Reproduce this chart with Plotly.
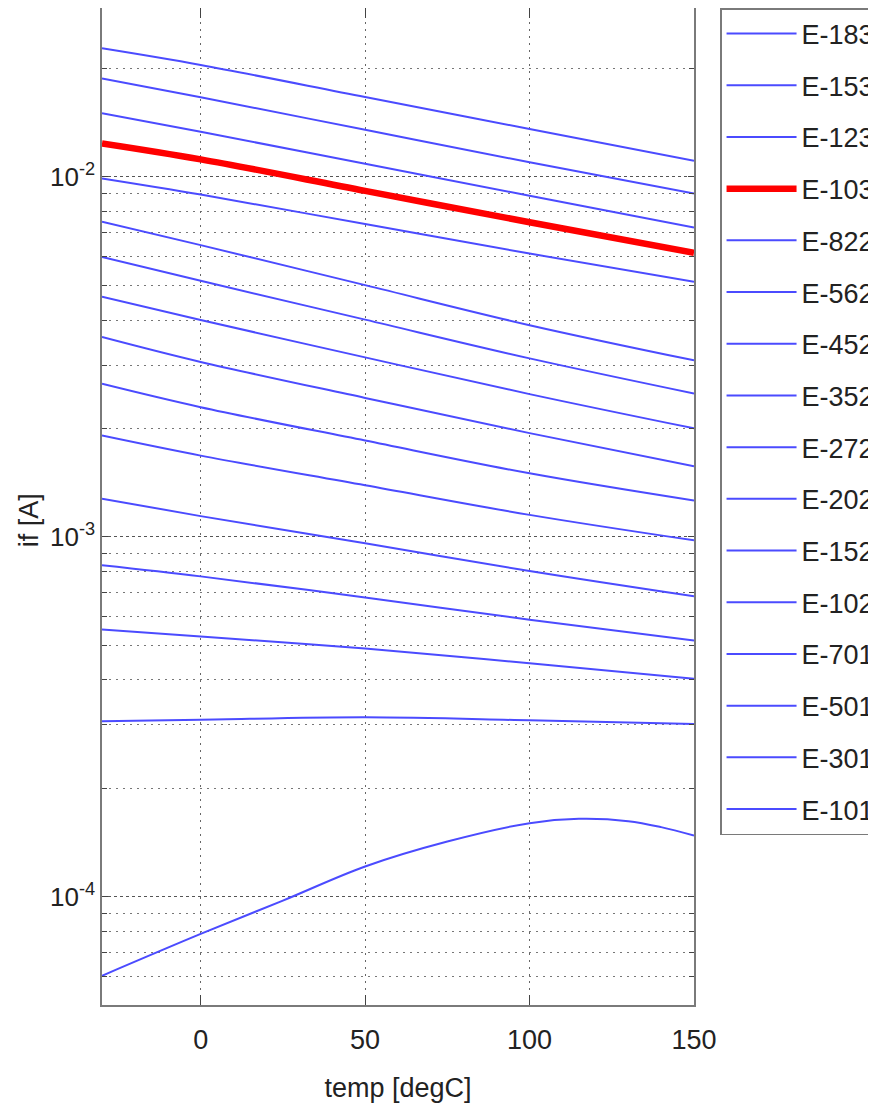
import plotly.graph_objects as go

# temperature points (degC) used for most series
temp = [-30, 0, 50, 100, 150]
temp_e101 = [-30, 0, 25, 50, 75, 100, 115, 130, 140, 150]

names = ["E-183", "E-153", "E-123", "E-103", "E-822", "E-562", "E-452", "E-352",
         "E-272", "E-202", "E-152", "E-102", "E-701", "E-501", "E-301", "E-101"]

e183 = [2.275e-2, 2.045e-2, 1.666e-2, 1.358e-2, 1.108e-2]
e153 = [1.877e-2, 1.663e-2, 1.351e-2, 1.097e-2, 8.99e-3]
e123 = [1.501e-2, 1.334e-2, 1.087e-2, 8.86e-3, 7.23e-3]
e103 = [1.238e-2, 1.118e-2, 9.14e-3, 7.48e-3, 6.15e-3]
e822 = [9.90e-3, 8.93e-3, 7.39e-3, 6.12e-3, 5.11e-3]
e562 = [7.50e-3, 6.46e-3, 5.00e-3, 3.87e-3, 3.09e-3]
e452 = [5.99e-3, 5.14e-3, 4.01e-3, 3.13e-3, 2.50e-3]
e352 = [4.64e-3, 4.00e-3, 3.15e-3, 2.49e-3, 2.00e-3]
e272 = [3.59e-3, 3.06e-3, 2.43e-3, 1.94e-3, 1.57e-3]
e202 = [2.66e-3, 2.29e-3, 1.85e-3, 1.50e-3, 1.26e-3]
e152 = [1.91e-3, 1.68e-3, 1.39e-3, 1.15e-3, 9.77e-4]
e102 = [1.276e-3, 1.141e-3, 9.59e-4, 8.03e-4, 6.83e-4]
e701 = [8.33e-4, 7.76e-4, 6.78e-4, 5.88e-4, 5.15e-4]
e501 = [5.52e-4, 5.28e-4, 4.89e-4, 4.45e-4, 4.03e-4]
e301 = [3.07e-4, 3.10e-4, 3.15e-4, 3.09e-4, 3.02e-4]
e101 = [6.03e-5, 7.88e-5, 9.75e-5, 1.213e-4, 1.423e-4, 1.60e-4, 1.645e-4, 1.621e-4, 1.56e-4, 1.478e-4]

series = [e183, e153, e123, e103, e822, e562, e452, e352,
          e272, e202, e152, e102, e701, e501, e301, e101]

highlight = "E-103"

y_tickvals = [1e-4, 1e-3, 1e-2]
y_ticktext = ["10<sup>-4</sup>", "10<sup>-3</sup>", "10<sup>-2</sup>"]
y_minor = [m * 10 ** e for e in (-5, -4, -3, -2) for m in range(2, 10)]
x_tickvals = [0, 50, 100, 150]
x_ticktext = ["0", "50", "100", "150"]

FONT = "Liberation Sans, Arial, Helvetica, sans-serif"

fig = go.Figure()
for name, vals in zip(names, series):
    xs = temp_e101 if name == "E-101" else temp
    if name == highlight:
        line = dict(color="#ff0000", width=6.5)
    else:
        line = dict(color="rgb(75,75,255)", width=2)
    fig.add_trace(go.Scatter(x=xs, y=vals, mode="lines", name=name, line=line,
                             line_shape="spline", legendgroup=name))

axis_common = dict(showline=True, linecolor="#7a7a7a", linewidth=1.5, mirror="ticks",
                   ticks="inside", tickcolor="#444", zeroline=False)

fig.update_xaxes(range=[-30, 150], tickvals=x_tickvals, ticktext=x_ticktext,
                 ticklen=10, showgrid=True, gridcolor="#666", griddash="2px,5px",
                 gridwidth=1, ticklabelstandoff=10,
                 tickfont=dict(family=FONT, size=27, color="#222"),
                 title=dict(text="temp [degC]", font=dict(family=FONT, size=27, color="#222"),
                            standoff=24),
                 **axis_common)
fig.update_yaxes(type="log", range=[-4.30103, -1.531], tickvals=y_tickvals,
                 ticktext=y_ticktext, ticklen=6, showgrid=True, gridcolor="#555",
                 griddash="3px,3px", gridwidth=1,
                 tickfont=dict(family=FONT, size=26, color="#222"),
                 minor=dict(tickvals=y_minor, ticks="inside", ticklen=5, tickcolor="#444",
                            showgrid=True, gridcolor="#777", griddash="2px,5px", gridwidth=1),
                 **axis_common)

fig.add_annotation(text="if [A]", textangle=-90, xref="paper", yref="paper",
                   x=-0.122, y=0.486, xanchor="center", yanchor="middle", showarrow=False,
                   font=dict(family=FONT, size=27, color="#222"))

fig.update_layout(
    width=876, height=1116,
    margin=dict(l=94, r=190, t=0, b=119, autoexpand=False),
    paper_bgcolor="white", plot_bgcolor="white",
    showlegend=True,
    legend=dict(x=1.044, y=1.0, xanchor="left", yanchor="top",
                bordercolor="#7a7a7a", borderwidth=1.5, bgcolor="white",
                font=dict(family=FONT, size=27, color="#222"),
                itemwidth=70, tracegroupgap=13.6),
)

fig.write_html("out.html")
